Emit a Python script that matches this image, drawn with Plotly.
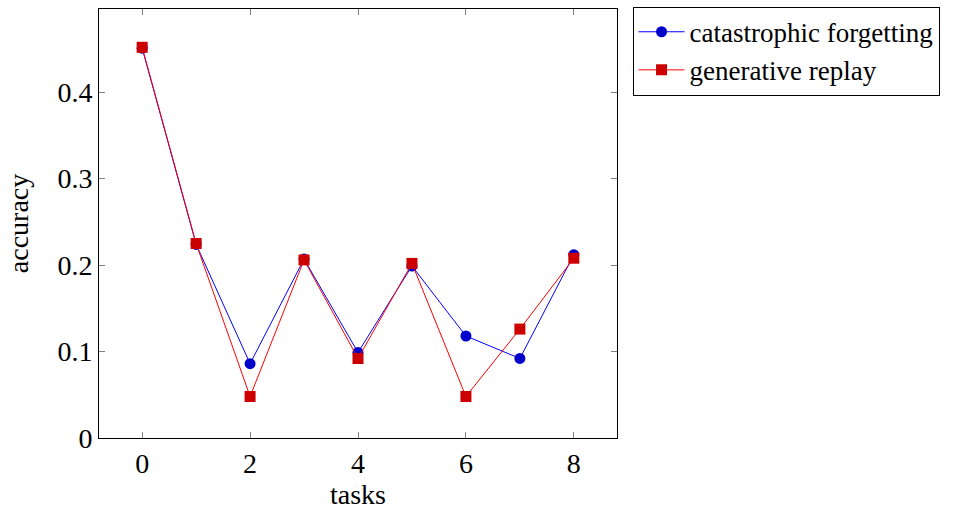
import plotly.graph_objects as go

tasks = [0, 1, 2, 3, 4, 5, 6, 7, 8]
catastrophic = [0.451, 0.224, 0.086, 0.207, 0.099, 0.199, 0.118, 0.092, 0.212]
generative = [0.452, 0.225, 0.048, 0.206, 0.092, 0.202, 0.048, 0.126, 0.208]
y_ticks = [0, 0.1, 0.2, 0.3, 0.4]
y_labels = ["0", "0.1", "0.2", "0.3", "0.4"]
x_ticks = [0, 2, 4, 6, 8]

FONT = "Liberation Serif"
FS = 28

fig = go.Figure()
fig.add_trace(go.Scatter(
    x=tasks, y=catastrophic, mode="lines+markers", name="catastrophic forgetting",
    line=dict(color="rgb(0,0,255)", width=1),
    marker=dict(symbol="circle", size=11, color="rgb(0,0,204)", line=dict(width=0)),
))
fig.add_trace(go.Scatter(
    x=tasks, y=generative, mode="lines+markers", name="generative replay",
    line=dict(color="rgb(255,0,0)", width=1),
    marker=dict(symbol="square", size=11, color="rgb(204,0,0)", line=dict(width=0)),
))

axis_common = dict(
    showline=True, linecolor="black", linewidth=1, mirror="ticks",
    ticks="inside", ticklen=6, tickcolor="gray", tickwidth=1,
    showgrid=False, zeroline=False,
    tickfont=dict(family=FONT, size=FS, color="black"),
)

fig.update_xaxes(
    range=[-0.8, 8.8], tickvals=x_ticks,
    title=dict(text="tasks", font=dict(family=FONT, size=FS, color="black"), standoff=6),
    **axis_common,
)
fig.update_yaxes(
    range=[0, 0.4963], tickvals=y_ticks, ticktext=y_labels,
    title=dict(text="accuracy", font=dict(family=FONT, size=FS, color="black"), standoff=20),
    **axis_common,
)

fig.update_layout(
    width=961, height=516,
    margin=dict(l=99, r=344, t=8, b=78),
    plot_bgcolor="white", paper_bgcolor="white",
    font=dict(family=FONT, size=FS, color="black"),
    legend=dict(
        x=1.03, y=1.003, xanchor="left", yanchor="top",
        bordercolor="black", borderwidth=1,
        font=dict(family=FONT, size=27, color="black"),
        tracegroupgap=0, itemwidth=46,
    ),
    showlegend=True,
)

fig.write_html("out.html")
